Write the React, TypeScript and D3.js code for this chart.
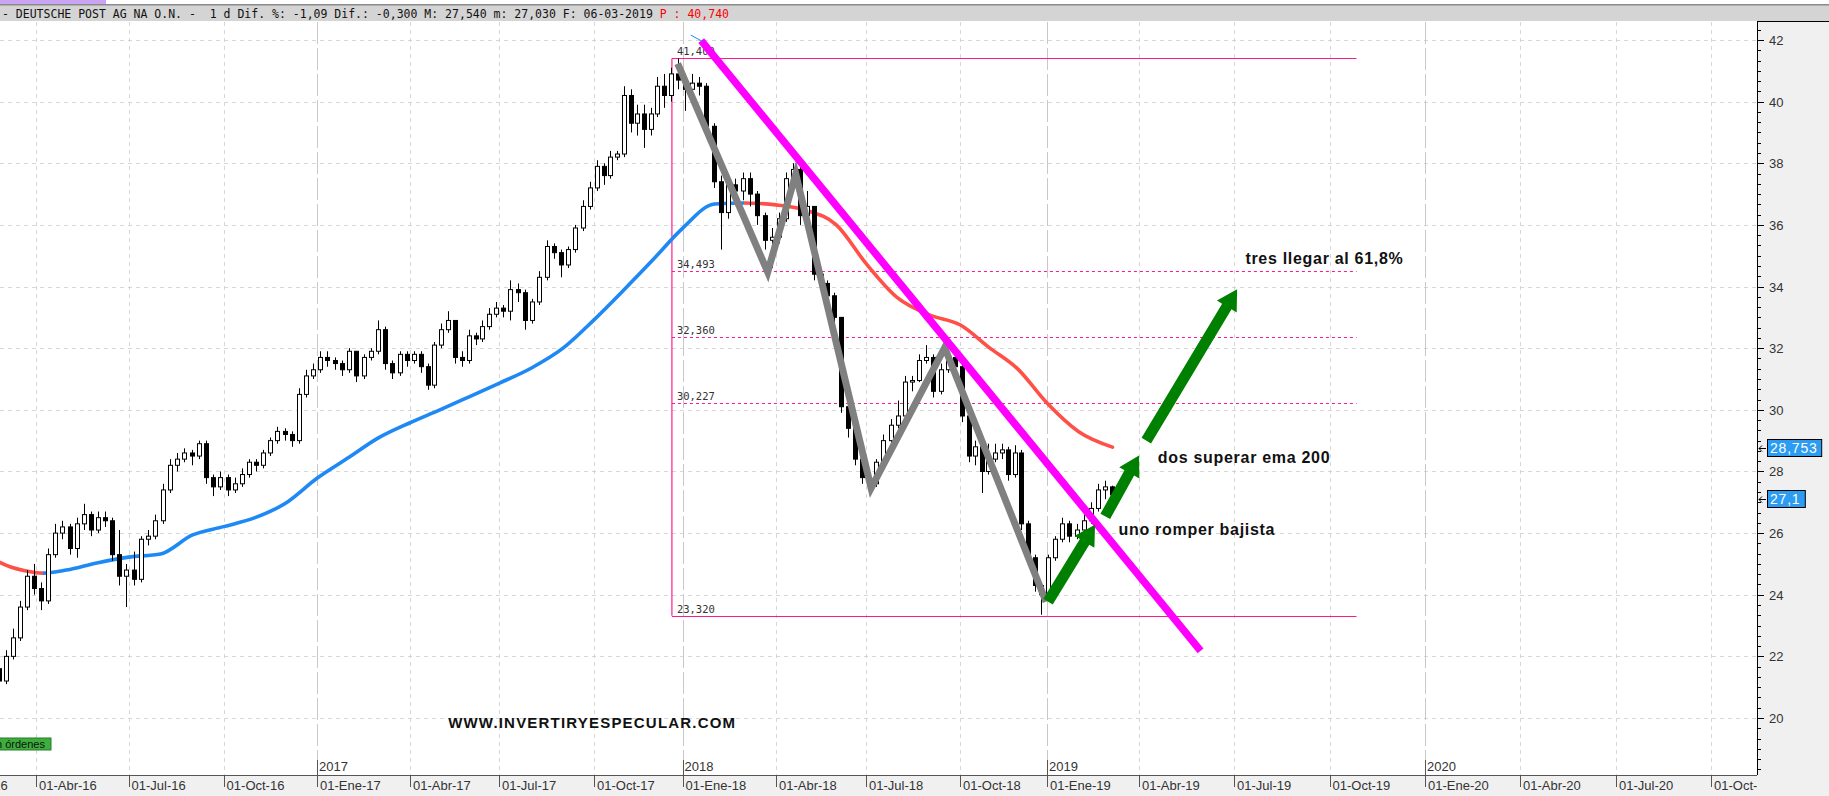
import React, { useEffect, useRef } from "react";
import * as d3 from "d3";

// Weekly candles (Monday of each week), DEUTSCHE POST AG
const firstWeek = "2016-02-22";
const lastWeek = "2019-03-04";
const opens = [
  21.6, 21.2, 22.0, 22.6, 23.6, 24.6, 24.2, 23.8, 25.3, 26.0, 26.2, 25.5, 26.3, 26.6, 26.1, 26.5, 26.4, 25.3, 24.6, 24.8,
  24.5, 25.8, 25.9, 26.4, 27.4, 28.2, 28.4, 28.6, 28.5, 28.9, 27.8, 27.5, 27.8, 27.4, 27.6, 27.9, 28.3, 28.2, 28.6, 29.0,
  29.3, 29.2, 29.0, 30.5, 31.1, 31.3, 31.7, 31.6, 31.5, 31.3, 31.9, 31.1, 31.7, 31.9, 32.6, 31.5, 31.2, 31.8, 31.6, 31.8,
  31.4, 30.8, 32.1, 32.6, 32.9, 31.7, 31.6, 32.4, 32.3, 32.7, 33.1, 33.3, 33.2, 33.9, 33.8, 32.9, 33.5, 34.3, 35.3, 35.1,
  34.7, 35.2, 35.9, 36.6, 37.2, 37.9, 37.6, 38.2, 38.3, 40.2, 39.3, 39.6, 39.1, 39.6, 40.5, 40.2, 40.9, 40.7, 40.4, 40.6,
  40.5, 39.2, 37.4, 36.4, 37.3, 37.1, 37.5, 37.0, 36.3, 35.5, 35.6, 36.2, 37.5, 37.8, 36.3, 36.6, 34.4, 34.1, 33.7, 33.0,
  30.1, 29.4, 28.4, 27.8, 27.6, 28.3, 29.0, 29.5, 29.8, 30.9, 30.95, 31.6, 31.7, 30.6, 31.3, 31.7, 31.4, 29.8, 28.5, 28.8,
  28.0, 28.4, 28.6, 28.7, 27.9, 28.6, 26.3, 25.2, 24.3, 24.0, 25.2, 25.8, 26.3, 25.9, 26.1, 26.4, 26.8, 27.4, 27.5,
];
const highs = [
  21.8, 22.2, 22.9, 23.8, 24.8, 25.0, 24.4, 25.5, 26.3, 26.4, 26.3, 26.5, 26.95, 26.7, 26.7, 26.7, 26.5, 26.1, 25.0, 25.4,
  25.9, 26.1, 26.6, 27.6, 28.4, 28.6, 28.75, 28.7, 29.0, 29.0, 27.9, 28.0, 27.9, 27.8, 28.1, 28.4, 28.4, 28.7, 29.1, 29.45,
  29.4, 29.3, 30.7, 31.3, 31.5, 31.9, 31.9, 31.7, 31.6, 32.0, 31.9, 31.8, 32.0, 32.9, 32.7, 31.6, 31.9, 31.9, 31.9, 31.9,
  31.5, 32.2, 32.8, 33.2, 32.9, 31.9, 32.6, 32.5, 32.9, 33.3, 33.5, 33.4, 34.2, 34.1, 33.9, 33.6, 34.5, 35.5, 35.4, 35.2,
  35.3, 36.0, 36.8, 37.4, 38.1, 38.0, 38.4, 38.4, 40.5, 40.4, 39.9, 39.9, 39.8, 40.8, 40.9, 41.1, 41.4, 40.9, 40.9, 40.8,
  40.6, 39.3, 37.6, 37.5, 37.5, 37.7, 37.7, 37.1, 36.4, 35.9, 36.4, 37.7, 38.0, 37.9, 37.1, 36.6, 34.5, 34.2, 33.8, 33.0,
  30.3, 29.5, 28.5, 27.9, 28.4, 29.2, 29.7, 30.3, 31.1, 31.1, 31.8, 32.1, 31.8, 31.5, 31.9, 31.8, 31.5, 29.9, 29.0, 28.9,
  28.9, 28.9, 28.9, 28.8, 28.85, 28.7, 26.4, 25.3, 24.4, 25.3, 25.9, 26.5, 26.4, 26.3, 26.6, 27.0, 27.6, 27.7, 27.54,
];
const lows = [
  20.95, 21.1, 21.9, 22.5, 23.5, 24.0, 23.5, 23.7, 25.2, 25.8, 25.3, 25.2, 26.1, 25.9, 26.0, 26.2, 25.1, 24.3, 23.6, 24.3,
  24.4, 25.6, 25.8, 26.3, 27.3, 28.0, 28.3, 28.2, 28.4, 27.6, 27.2, 27.4, 27.2, 27.3, 27.5, 27.8, 28.0, 28.1, 28.5, 28.9,
  29.0, 28.8, 28.9, 30.4, 31.0, 31.2, 31.4, 31.3, 31.1, 31.2, 30.9, 31.0, 31.6, 31.8, 31.3, 31.0, 31.1, 31.4, 31.5, 31.2,
  30.65, 30.7, 32.0, 32.5, 31.5, 31.4, 31.5, 32.1, 32.2, 32.6, 33.0, 33.0, 32.9, 33.5, 32.6, 32.8, 33.4, 34.2, 34.9, 34.3,
  34.6, 35.1, 35.8, 36.5, 37.1, 37.3, 37.5, 38.1, 38.2, 39.0, 38.9, 38.5, 38.9, 39.5, 39.8, 40.0, 40.4, 39.7, 40.2, 40.2,
  39.0, 37.2, 35.2, 36.2, 36.7, 36.8, 36.6, 36.0, 35.2, 34.6, 35.4, 36.1, 37.3, 36.0, 36.2, 34.2, 33.8, 33.5, 32.8, 29.9,
  29.1, 28.2, 27.6, 27.35, 27.5, 28.2, 28.9, 29.4, 29.7, 30.6, 30.9, 31.5, 30.4, 30.5, 31.2, 31.2, 29.6, 28.3, 28.2, 27.3,
  27.9, 28.3, 28.4, 27.7, 27.8, 26.1, 25.0, 24.1, 23.35, 23.9, 25.1, 25.7, 25.7, 25.8, 26.0, 26.3, 26.7, 27.1, 27.03,
];
const closes = [
  21.2, 22.0, 22.6, 23.6, 24.6, 24.2, 23.8, 25.3, 26.0, 26.2, 25.5, 26.3, 26.6, 26.1, 26.5, 26.4, 25.3, 24.6, 24.8, 24.5,
  25.8, 25.9, 26.4, 27.4, 28.2, 28.4, 28.6, 28.5, 28.9, 27.8, 27.5, 27.8, 27.4, 27.6, 27.9, 28.3, 28.2, 28.6, 29.0, 29.3,
  29.2, 29.0, 30.5, 31.1, 31.3, 31.7, 31.6, 31.5, 31.3, 31.9, 31.1, 31.7, 31.9, 32.6, 31.5, 31.2, 31.8, 31.6, 31.8, 31.4,
  30.8, 32.1, 32.6, 32.9, 31.7, 31.6, 32.4, 32.3, 32.7, 33.1, 33.3, 33.2, 33.9, 33.8, 32.9, 33.5, 34.3, 35.3, 35.1, 34.7,
  35.2, 35.9, 36.6, 37.2, 37.9, 37.6, 38.2, 38.3, 40.2, 39.3, 39.6, 39.1, 39.6, 40.5, 40.2, 40.9, 40.7, 40.4, 40.6, 40.5,
  39.2, 37.4, 36.4, 37.3, 37.1, 37.5, 37.0, 36.3, 35.5, 35.6, 36.2, 37.5, 37.8, 36.3, 36.6, 34.4, 34.1, 33.7, 33.0, 30.1,
  29.4, 28.4, 27.8, 27.6, 28.3, 29.0, 29.5, 29.8, 30.9, 30.95, 31.6, 31.7, 30.6, 31.3, 31.7, 31.4, 29.8, 28.5, 28.8, 28.0,
  28.4, 28.6, 28.7, 27.9, 28.6, 26.3, 25.2, 24.3, 24.0, 25.2, 25.8, 26.3, 25.9, 26.1, 26.4, 26.8, 27.4, 27.5, 27.24,
];

// EMA 200 (sampled)
const emaDates = [
  "2016-02-22", "2016-03-07", "2016-03-21", "2016-04-08", "2016-05-01", "2016-06-01", "2016-07-01", "2016-08-01",
  "2016-09-01", "2016-10-01", "2016-11-01", "2016-12-01", "2017-01-01", "2017-02-01", "2017-03-01", "2017-04-01",
  "2017-05-01", "2017-06-01", "2017-07-01", "2017-08-01", "2017-09-01", "2017-10-01", "2017-11-01", "2017-12-01",
  "2018-01-01", "2018-02-01", "2018-03-01", "2018-04-01", "2018-05-01", "2018-06-01", "2018-07-01", "2018-08-01",
  "2018-09-01", "2018-10-01", "2018-11-01", "2018-12-01", "2019-01-01", "2019-02-01", "2019-03-06",
];
const emaValues = [
  25.1, 24.9, 24.78, 24.7, 24.8, 25.04, 25.22, 25.32, 25.94, 26.21, 26.5, 26.97, 27.78, 28.46, 29.08, 29.58,
  29.99, 30.43, 30.86, 31.35, 32.0, 32.92, 33.89, 34.86, 35.89, 36.68, 36.71, 36.65, 36.48, 36.0, 34.75, 33.63,
  33.08, 32.76, 32.02, 31.33, 30.22, 29.29, 28.79,
];

// Fibonacci retracement
const fibStart = "2017-12-21";
const fibEnd = "2019-10-27";
const fibLevels = [41.4, 34.493, 32.36, 30.227, 23.32];
const fibLabels = ["41,400", "34,493", "32,360", "30,227", "23,320"];

// drawn annotations
const zigzagDates = ["2017-12-27", "2018-03-24", "2018-04-21", "2018-07-06", "2018-09-16", "2018-12-31"];
const zigzagPrices = [41.23, 34.47, 37.65, 27.46, 32.02, 23.77];
const trendDates = ["2018-01-19", "2019-05-30"];
const trendPrices = [41.98, 22.18];
const thinDates = ["2018-01-09", "2018-01-21"];
const thinPrices = [42.16, 41.94];
const arrowTailDates = ["2019-01-02", "2019-02-27", "2019-04-08"];
const arrowTailPrices = [23.78, 26.54, 29.0];
const arrowTipDates = ["2019-02-17", "2019-04-01", "2019-07-04"];
const arrowTipPrices = [26.27, 28.52, 33.91];
const noteTexts = ["uno romper bajista", "dos superar ema 200", "tres llegar al 61,8%"];
const noteDates = ["2019-03-12", "2019-04-19", "2019-07-12"];
const notePrices = [25.94, 28.29, 34.73];

// axes
const priceTicks = [20, 22, 24, 26, 28, 30, 32, 34, 36, 38, 40, 42];
const tagValues = [28.753, 27.1];
const tagLabels = ["28,753", "27,1"];
const monthNames = ["Ene", "Feb", "Mar", "Abr", "May", "Jun", "Jul", "Ago", "Sep", "Oct", "Nov", "Dic"];
const headerText = "- DEUTSCHE POST AG NA O.N. -  1 d Dif. %: -1,09 Dif.: -0,300 M: 27,540 m: 27,030 F: 06-03-2019 ";
const headerRed = "P : 40,740";

// quarter stops of the time axis and where they fall on screen
const axisDates = [
  "2016-01-01", "2016-04-01", "2016-07-01", "2016-10-01", "2017-01-01", "2017-04-01", "2017-07-01", "2017-10-01",
  "2018-01-01", "2018-04-01", "2018-07-01", "2018-10-01", "2019-01-01", "2019-04-01", "2019-07-01", "2019-10-01",
  "2020-01-01", "2020-04-01", "2020-07-01", "2020-10-01",
];
const axisPx = [-56, 36, 128.5, 223.6, 317, 410, 499, 594, 682.5, 776, 866, 960, 1047, 1139, 1234, 1329.5, 1425, 1520, 1616, 1711];

const App: React.FC = () => {
  const ref = useRef<SVGSVGElement>(null);

  useEffect(() => {
    if (!ref.current) return;
    const svg = d3.select(ref.current);
    svg.selectAll("*").remove();

    const W = 1829;
    const H = 796;
    const plotRight = 1757;
    const plotTop = 22;
    const plotBottom = 775;
    const axisFont = "'Liberation Sans', Arial, sans-serif";
    const monoFont = "'DejaVu Sans Mono', monospace";
    const emaUp = "#1e88f5";
    const emaDown = "#ff5048";

    const parse = d3.timeParse("%Y-%m-%d");
    const pd = (s: string) => parse(s) as Date;

    const x = d3.scaleTime().domain(axisDates.map(pd)).range(axisPx);
    const y = d3.scaleLinear().domain([20, 42]).range([718, 40]);

    svg.append("rect").attr("width", W).attr("height", H).attr("fill", "#fff");

    const defs = svg.append("defs");
    defs.append("clipPath").attr("id", "plot-clip")
      .append("rect").attr("x", 0).attr("y", plotTop).attr("width", plotRight).attr("height", plotBottom - plotTop);

    const plot = svg.append("g").attr("clip-path", "url(#plot-clip)");

    // grid
    plot.selectAll(".hgrid").data(priceTicks).join("line")
      .attr("x1", 0).attr("x2", plotRight)
      .attr("y1", d => Math.round(y(d)) + 0.5).attr("y2", d => Math.round(y(d)) + 0.5)
      .attr("stroke", "#d6d6d6").attr("stroke-dasharray", "4,4");

    const quarters = d3.timeMonth.every(3)!.range(pd("2016-01-01"), pd("2020-10-02"));
    plot.selectAll(".vgrid").data(quarters).join("line")
      .attr("x1", d => Math.round(x(d)) + 0.5).attr("x2", d => Math.round(x(d)) + 0.5)
      .attr("y1", plotTop).attr("y2", plotBottom)
      .attr("stroke", d => (d.getMonth() === 0 ? "#c8c8c8" : "#d6d6d6"))
      .attr("stroke-dasharray", d => (d.getMonth() === 0 ? "22,4" : "4,4"));

    // fibonacci box
    const fx0 = x(pd(fibStart));
    const fx1 = x(pd(fibEnd));
    const fibColor = "#ff1a8c";
    plot.append("line")
      .attr("x1", fx0).attr("x2", fx0).attr("y1", y(fibLevels[0])).attr("y2", y(fibLevels[fibLevels.length - 1]))
      .attr("stroke", fibColor).attr("stroke-width", 1.2);
    plot.selectAll(".fib").data(fibLevels).join("line")
      .attr("x1", fx0).attr("x2", fx1)
      .attr("y1", d => Math.round(y(d)) + 0.5).attr("y2", d => Math.round(y(d)) + 0.5)
      .attr("stroke", fibColor).attr("stroke-width", 1.1)
      .attr("stroke-dasharray", (d, i) => (i === 0 || i === fibLevels.length - 1 ? null : "3,3"));
    plot.selectAll(".fibLabel").data(fibLevels).join("text")
      .attr("x", fx0 + 5).attr("y", d => y(d) - 3)
      .attr("font-family", monoFont).attr("font-size", 10.5).attr("fill", "#333")
      .text((d, i) => fibLabels[i]);

    // EMA 200: one smooth path, coloured blue while rising and red while falling
    const emaPts = emaDates.map((d, i) => ({ date: pd(d), v: emaValues[i] }));
    const grad = defs.append("linearGradient").attr("id", "ema-grad")
      .attr("gradientUnits", "userSpaceOnUse")
      .attr("x1", 0).attr("x2", W).attr("y1", 0).attr("y2", 0);
    d3.pairs(emaPts).forEach(([a, b]) => {
      const c = b.v >= a.v ? emaUp : emaDown;
      grad.append("stop").attr("offset", Math.max(0, x(a.date)) / W).attr("stop-color", c);
      grad.append("stop").attr("offset", Math.max(0, x(b.date)) / W).attr("stop-color", c);
    });
    const emaLine = d3.line<{ date: Date; v: number }>()
      .x(d => x(d.date)).y(d => y(d.v)).curve(d3.curveMonotoneX);
    plot.append("path")
      .attr("d", emaLine(emaPts))
      .attr("fill", "none").attr("stroke", "url(#ema-grad)")
      .attr("stroke-width", 3.6).attr("stroke-linecap", "round");

    // candles
    const weeks = d3.timeMonday.range(pd(firstWeek), d3.timeDay.offset(pd(lastWeek), 1));
    const bars = weeks.map((d, i) => ({
      date: d3.timeDay.offset(d, 2), o: opens[i], h: highs[i], l: lows[i], c: closes[i],
    }));
    const bodyW = 4;
    const candles = plot.append("g");
    candles.selectAll(".wick").data(bars).join("line")
      .attr("x1", d => Math.round(x(d.date)) + 0.5).attr("x2", d => Math.round(x(d.date)) + 0.5)
      .attr("y1", d => y(d.h)).attr("y2", d => y(d.l))
      .attr("stroke", "#000").attr("stroke-width", 1);
    candles.selectAll(".body").data(bars).join("rect")
      .attr("x", d => Math.round(x(d.date)) - bodyW / 2 + 0.5)
      .attr("y", d => y(Math.max(d.o, d.c)))
      .attr("width", bodyW)
      .attr("height", d => Math.max(1, Math.abs(y(d.o) - y(d.c))))
      .attr("fill", d => (d.c >= d.o ? "#fff" : "#000"))
      .attr("stroke", "#000").attr("stroke-width", 1);

    // gray zigzag
    const line = d3.line<[Date, number]>().x(d => x(d[0])).y(d => y(d[1]));
    plot.append("path")
      .attr("d", line(zigzagDates.map((d, i) => [pd(d), zigzagPrices[i]] as [Date, number])))
      .attr("fill", "none").attr("stroke", "#808080").attr("stroke-width", 7);

    // bearish trendline
    plot.append("path")
      .attr("d", line(trendDates.map((d, i) => [pd(d), trendPrices[i]] as [Date, number])))
      .attr("fill", "none").attr("stroke", "#ff00ff").attr("stroke-width", 7.5);
    plot.append("path")
      .attr("d", line(thinDates.map((d, i) => [pd(d), thinPrices[i]] as [Date, number])))
      .attr("fill", "none").attr("stroke", emaUp).attr("stroke-width", 1);

    // green arrows
    const arrowPath = (x0: number, y0: number, x1: number, y1: number) => {
      const dx = x1 - x0, dy = y1 - y0, len = Math.hypot(dx, dy);
      const ux = dx / len, uy = dy / len, nx = -uy, ny = ux;
      const sw = 5.5, hw = 11.5, hl = 20;
      const bx = x1 - ux * hl, by = y1 - uy * hl;
      const pts = [
        [x0 + nx * sw, y0 + ny * sw], [bx + nx * sw, by + ny * sw], [bx + nx * hw, by + ny * hw], [x1, y1],
        [bx - nx * hw, by - ny * hw], [bx - nx * sw, by - ny * sw], [x0 - nx * sw, y0 - ny * sw],
      ];
      return "M" + pts.map(p => p.join(",")).join("L") + "Z";
    };
    plot.selectAll(".arrow").data(arrowTailDates).join("path")
      .attr("d", (d, i) => arrowPath(
        x(pd(d)), y(arrowTailPrices[i]), x(pd(arrowTipDates[i])), y(arrowTipPrices[i])))
      .attr("fill", "#008000");

    plot.selectAll(".note").data(noteTexts).join("text")
      .attr("x", (d, i) => x(pd(noteDates[i]))).attr("y", (d, i) => y(notePrices[i]))
      .attr("font-family", axisFont).attr("font-weight", "bold").attr("font-size", 16)
      .attr("letter-spacing", 0.7).attr("fill", "#111")
      .text(d => d);

    plot.append("text")
      .attr("x", x(pd("2017-05-10"))).attr("y", y(19.69))
      .attr("font-family", axisFont).attr("font-weight", "bold").attr("font-size", 15)
      .attr("letter-spacing", 1.2).attr("fill", "#111")
      .text("WWW.INVERTIRYESPECULAR.COM");

    // orders button at lower left
    svg.append("rect").attr("x", -2).attr("y", 738).attr("width", 53).attr("height", 12)
      .attr("fill", "#3cae3c").attr("stroke", "#2a7a2a");
    svg.append("text").attr("x", -4).attr("y", 748)
      .attr("font-family", axisFont).attr("font-size", 11).attr("fill", "#111").text("n órdenes");

    // bottom time axis
    svg.append("rect").attr("x", 0).attr("y", plotBottom).attr("width", W).attr("height", H - plotBottom).attr("fill", "#f0f0f0");
    svg.append("line").attr("x1", 0).attr("x2", plotRight).attr("y1", plotBottom + 0.5).attr("y2", plotBottom + 0.5)
      .attr("stroke", "#555");
    const xAxis = svg.append("g");
    xAxis.selectAll(".qtick").data(quarters).join("line")
      .attr("x1", d => Math.round(x(d)) + 0.5).attr("x2", d => Math.round(x(d)) + 0.5)
      .attr("y1", plotBottom).attr("y2", plotBottom + 12).attr("stroke", "#555");
    xAxis.selectAll(".qlabel").data(quarters).join("text")
      .attr("x", d => x(d) + 3).attr("y", 790)
      .attr("font-family", axisFont).attr("font-size", 13).attr("fill", "#333")
      .text(d => `01-${monthNames[d.getMonth()]}-${d3.timeFormat("%y")(d)}`);
    const years = quarters.filter(d => d.getMonth() === 0 && x(d) > 0);
    xAxis.selectAll(".ytick").data(years).join("line")
      .attr("x1", d => Math.round(x(d)) + 0.5).attr("x2", d => Math.round(x(d)) + 0.5)
      .attr("y1", plotBottom - 15).attr("y2", plotBottom).attr("stroke", "#555");
    xAxis.selectAll(".ylabel").data(years).join("text")
      .attr("x", d => x(d) + 2).attr("y", plotBottom - 4)
      .attr("font-family", axisFont).attr("font-size", 13).attr("fill", "#333")
      .text(d => d3.timeFormat("%Y")(d));

    // right price axis
    svg.append("rect").attr("x", plotRight).attr("y", 21).attr("width", W - plotRight).attr("height", H - 21)
      .attr("fill", "#f0f0f0");
    svg.append("line").attr("x1", plotRight + 0.5).attr("x2", plotRight + 0.5).attr("y1", 21).attr("y2", plotBottom)
      .attr("stroke", "#000");
    svg.append("line").attr("x1", plotRight).attr("x2", W).attr("y1", 21.5).attr("y2", 21.5).attr("stroke", "#000");
    const minor = d3.range(18, 42.7, 1 / 3).filter(v => y(v) > 22 && y(v) < plotBottom);
    svg.selectAll(".minor").data(minor).join("line")
      .attr("x1", plotRight).attr("x2", plotRight + 4)
      .attr("y1", d => Math.round(y(d)) + 0.5).attr("y2", d => Math.round(y(d)) + 0.5)
      .attr("stroke", "#000");
    svg.selectAll(".major").data(priceTicks).join("line")
      .attr("x1", plotRight).attr("x2", plotRight + 7)
      .attr("y1", d => Math.round(y(d)) + 0.5).attr("y2", d => Math.round(y(d)) + 0.5)
      .attr("stroke", "#000");
    svg.selectAll(".plabel").data(priceTicks).join("text")
      .attr("x", plotRight + 12).attr("y", d => y(d) + 5)
      .attr("font-family", axisFont).attr("font-size", 13).attr("fill", "#333")
      .text(d => d);

    // last value tags
    const tags = svg.selectAll(".tag").data(tagValues).join("g")
      .attr("transform", d => `translate(0,${Math.round(y(d))})`);
    tags.append("rect")
      .attr("x", plotRight + 10.5).attr("y", -8.5)
      .attr("width", (d, i) => tagLabels[i].length * 8.2 + 5).attr("height", 17)
      .attr("fill", "#2b9cf2").attr("stroke", "#000");
    tags.append("text")
      .attr("x", plotRight + 13).attr("y", 5)
      .attr("font-family", axisFont).attr("font-size", 14).attr("letter-spacing", 0.8).attr("fill", "#fff")
      .text((d, i) => tagLabels[i]);
    tags.append("path")
      .attr("d", `M${plotRight + 9},0.5L${plotRight + 2},0.5M${plotRight + 5},-2.5L${plotRight + 2},0.5L${plotRight + 5},3.5`)
      .attr("fill", "none").attr("stroke", "#000");

    // header
    svg.append("rect").attr("x", 0).attr("y", 0).attr("width", W).attr("height", 21).attr("fill", "#d4d4d4");
    svg.append("rect").attr("x", 0).attr("y", 0).attr("width", W).attr("height", 4).attr("fill", "#fff");
    svg.append("rect").attr("x", 0).attr("y", 0).attr("width", 106).attr("height", 4).attr("fill", "#c9a4f2");
    svg.append("rect").attr("x", 0).attr("y", 4).attr("width", W).attr("height", 1.5).attr("fill", "#8a8a8a");
    const header = svg.append("text").attr("x", 2).attr("y", 17.5)
      .attr("font-family", monoFont).attr("font-size", 11.5).attr("fill", "#111")
      .style("white-space", "pre");
    header.append("tspan").text(headerText);
    header.append("tspan").attr("fill", "#ff0000").text(headerRed);
  }, []);

  return (
    <svg
      ref={ref}
      width={1829}
      height={796}
      style={{ position: "absolute", left: 0, top: 0, display: "block" }}
    />
  );
};

export default App;
